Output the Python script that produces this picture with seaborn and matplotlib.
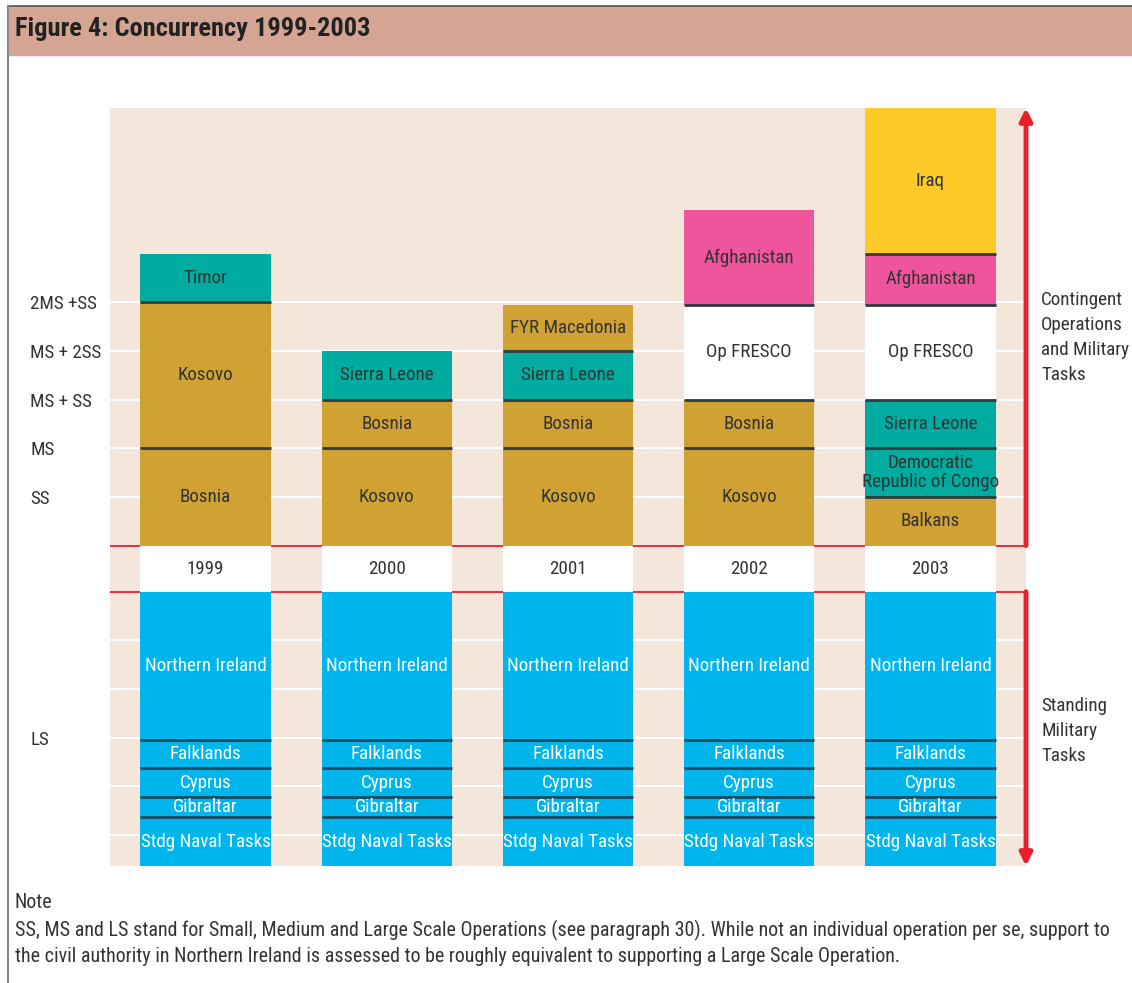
import numpy as np
import matplotlib.pyplot as plt
import matplotlib.patches as mpatches
import matplotlib.lines as mlines
from matplotlib import font_manager
import seaborn as sns

# ==========================================
# Data
# ==========================================
years = ["1999", "2000", "2001", "2002", "2003"]

# contingent operations per year, bottom to top, size in SS units
ops_1999 = ["Bosnia", "Kosovo", "Timor"]
size_1999 = [2, 3, 1]
ops_2000 = ["Kosovo", "Bosnia", "Sierra Leone"]
size_2000 = [2, 1, 1]
ops_2001 = ["Kosovo", "Bosnia", "Sierra Leone", "FYR Macedonia"]
size_2001 = [2, 1, 1, 0.95]
ops_2002 = ["Kosovo", "Bosnia", "Op FRESCO", "Afghanistan"]
size_2002 = [2, 1, 1.95, 1.95]
ops_2003 = ["Balkans", "Democratic\nRepublic of Congo", "Sierra Leone",
            "Op FRESCO", "Afghanistan", "Iraq"]
size_2003 = [1, 1, 1, 1.95, 1.05, 3]

# standing military tasks (same every year), top to bottom
standing_tasks = ["Northern Ireland", "Falklands", "Cyprus", "Gibraltar", "Stdg Naval Tasks"]
standing_size = [3.05, 0.58, 0.6, 0.41, 1.0]

scale_labels = ["SS", "MS", "MS + SS", "MS + 2SS", "2MS +SS"]
scale_levels = [1, 2, 3, 4, 5]
year_band = 0.95          # height of the year strip
ls_label = "LS"
ls_level = -3.95

note_1 = ("SS, MS and LS stand for Small, Medium and Large Scale Operations (see paragraph 30). "
          "While not an individual operation per se, support to")
note_2 = ("the civil authority in Northern Ireland is assessed to be roughly equivalent "
          "to supporting a Large Scale Operation.")

# ==========================================
# Colours
# ==========================================
gold = "#cfa233"
teal = "#00ab9f"
pink = "#ef559d"
yellow = "#fdca27"
cyan = "#00b5ec"
beige = "#f5e6dc"
red = "#e8202a"
band = "#d5a594"
txt = "#333333"

op_colors = {
    "Bosnia": gold, "Kosovo": gold, "Balkans": gold, "FYR Macedonia": gold,
    "Timor": teal, "Sierra Leone": teal, "Democratic\nRepublic of Congo": teal,
    "Op FRESCO": "white", "Afghanistan": pink, "Iraq": yellow,
}

# pick a condensed face if one is installed
sns.set_style("white")
names = {f.name for f in font_manager.fontManager.ttflist}
stretch = "normal"
family = "Roboto" if "Roboto" in names else "DejaVu Sans"
for cand in ["Liberation Sans Narrow", "Roboto Condensed", "Noto Sans Condensed",
             "Open Sans Condensed", "DejaVu Sans Condensed", "Noto Sans SemiCondensed"]:
    if cand in names:
        family = cand
        break
else:
    for f in font_manager.fontManager.ttflist:
        if f.name in ("Noto Sans", "DejaVu Sans", "Open Sans") and f.stretch == "condensed":
            family, stretch = f.name, "condensed"
            break
plt.rcParams['font.family'] = [family, 'DejaVu Sans']
plt.rcParams['font.stretch'] = stretch

fig = plt.figure(figsize=(11.32, 9.83), dpi=100)
renderer = fig.canvas.get_renderer()


def fit_size(s, target_px, weight="normal", cap=14.0):
    t = fig.text(0, 0, s, fontsize=10, fontweight=weight)
    w = t.get_window_extent(renderer).width
    t.remove()
    return min(cap, 10 * target_px / w)


fs = fit_size("Northern Ireland", 121)
fs_note = fit_size(note_1, 1090, cap=16)
fs_title = fit_size("Figure 4: Concurrency 1999-2003", 368, "bold", 19)

ax = fig.add_axes([110 / 1132, 117 / 983, 916 / 1132, 758 / 983])
ax.set_facecolor(beige)
bar_w = 0.72

ops_by_year = [ops_1999, ops_2000, ops_2001, ops_2002, ops_2003]
size_by_year = [size_1999, size_2000, size_2001, size_2002, size_2003]

# ==========================================
# Stacks
# ==========================================
for i, (year, ops, sizes) in enumerate(zip(years, ops_by_year, size_by_year)):
    bottoms = np.concatenate([[0], np.cumsum(sizes)[:-1]])
    for name, b, h in zip(ops, bottoms, sizes):
        sns.barplot(x=[year], y=[h], order=years, bottom=b, color=op_colors[name],
                    width=bar_w, saturation=1, linewidth=0, errorbar=None,
                    zorder=3, ax=ax)
        ax.text(i, b + h / 2, name, ha="center", va="center", fontsize=fs,
                color=txt, zorder=5, linespacing=1.05)
    for b in bottoms[1:]:
        ax.hlines(b, i - bar_w / 2, i + bar_w / 2, color="#2e3b3f", lw=2, zorder=4)

    # year strip
    sns.barplot(x=[year], y=[year_band], order=years, bottom=-year_band, color="white",
                width=bar_w, saturation=1, linewidth=0, errorbar=None, zorder=3, ax=ax)
    ax.text(i, -year_band / 2, year, ha="center", va="center", fontsize=fs,
            color=txt, zorder=5)

    # standing tasks
    tops = -year_band - np.concatenate([[0], np.cumsum(standing_size)[:-1]])
    for name, t, h in zip(standing_tasks, tops, standing_size):
        sns.barplot(x=[year], y=[h], order=years, bottom=t - h, color=cyan,
                    width=bar_w, saturation=1, linewidth=0, errorbar=None,
                    zorder=3, ax=ax)
        ax.text(i, t - h / 2, name, ha="center", va="center", fontsize=fs,
                color="white", zorder=5)
    for t in tops[1:]:
        ax.hlines(t, i - bar_w / 2, i + bar_w / 2, color="#1d4a5e", lw=2, zorder=4)

# grid lines
for lv in scale_levels:
    ax.axhline(lv, color="white", lw=1.5, zorder=1)
for k in range(1, 6):
    ax.axhline(-year_band - k, color="white", lw=1.5, zorder=1)
ax.axhline(0, color=red, lw=1.3, zorder=2)
ax.axhline(-year_band, color=red, lw=1.3, zorder=2)

ax.set_xlim(-0.527, 4.527)
ax.set_ylim(-year_band - sum(standing_size), 9.0)
ax.set_xlabel("")
ax.set_ylabel("")
ax.set_xticks([])
for s in ax.spines.values():
    s.set_visible(False)

ax.set_yticks(scale_levels + [ls_level])
ax.set_yticklabels(scale_labels + [ls_label], fontsize=fs, color=txt, ha="left")
ax.tick_params(axis="y", length=0, pad=80 * 0.72)

# side arrows
trans = ax.get_yaxis_transform()
arrow = dict(arrowstyle="-|>", color=red, lw=3.5, mutation_scale=18, shrinkA=0, shrinkB=0)
ax.annotate("", xy=(1.0, 9.0), xytext=(1.0, 0), xycoords=trans, textcoords=trans,
            arrowprops=arrow, annotation_clip=False)
ax.annotate("", xy=(1.0, -year_band - sum(standing_size)), xytext=(1.0, -year_band),
            xycoords=trans, textcoords=trans, arrowprops=arrow, annotation_clip=False)

ax.text(1.0164, 4.27, "Contingent\nOperations\nand Military\nTasks", transform=trans,
        ha="left", va="center", fontsize=fs, color=txt, linespacing=1.5)
ax.text(1.0164, -3.81, "Standing\nMilitary\nTasks", transform=trans,
        ha="left", va="center", fontsize=fs, color=txt, linespacing=1.5)

# title band and frame
fig.patches.append(mpatches.Rectangle((8 / 1132, 1 - 55 / 983), 1, 49 / 983,
                                      transform=fig.transFigure, color=band, zorder=0))
fig.lines.append(mlines.Line2D([8 / 1132, 1], [1 - 6 / 983] * 2, transform=fig.transFigure,
                               color="#555555", lw=1.2))
fig.lines.append(mlines.Line2D([8 / 1132] * 2, [0, 1 - 6 / 983], transform=fig.transFigure,
                               color="#888888", lw=1.5))
fig.text(15 / 1132, 1 - 29 / 983, "Figure 4: Concurrency 1999-2003", fontsize=fs_title,
         fontweight="bold", color="#222222", va="center", ha="left")

# note
fig.text(15 / 1132, 1 - 903 / 983, "Note", fontsize=fs_note, color=txt, va="center")
fig.text(15 / 1132, 1 - 930 / 983, note_1, fontsize=fs_note, color=txt, va="center")
fig.text(15 / 1132, 1 - 957 / 983, note_2, fontsize=fs_note, color=txt, va="center")

plt.savefig("out.png", dpi=100)
plt.close()
